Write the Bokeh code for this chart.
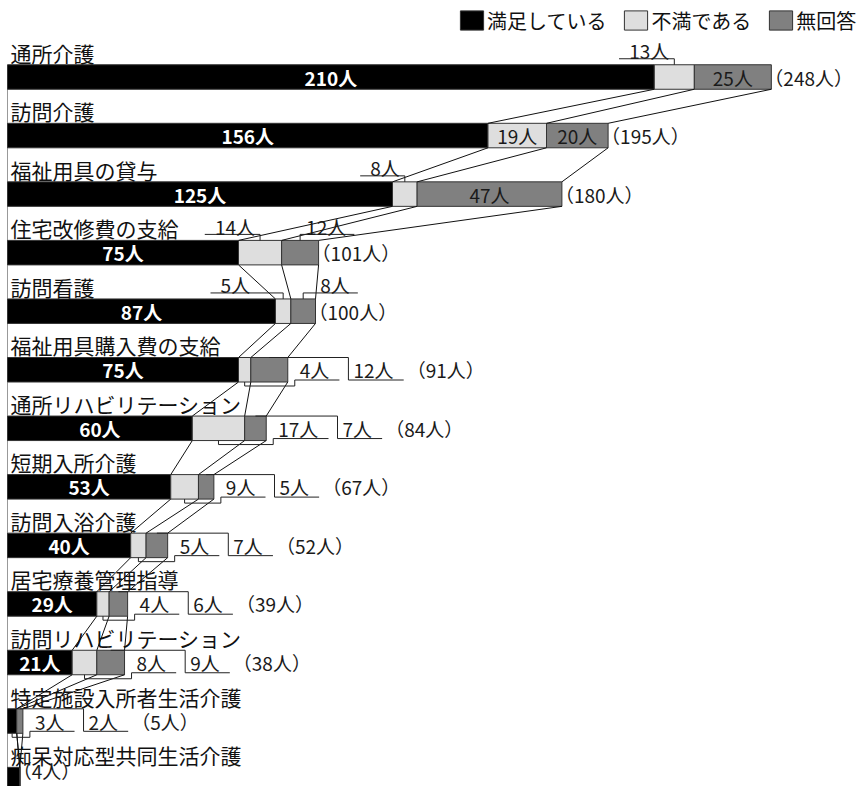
from bokeh.plotting import figure
from bokeh.models import ColumnDataSource, Range1d, Legend, LegendItem
from bokeh.core.properties import value
from bokeh.embed import file_html
from bokeh.resources import INLINE

# ---------------- data ----------------
categories = ["通所介護", "訪問介護", "福祉用具の貸与", "住宅改修費の支給", "訪問看護",
              "福祉用具購入費の支給", "通所リハビリテーション", "短期入所介護", "訪問入浴介護",
              "居宅療養管理指導", "訪問リハビリテーション", "特定施設入所者生活介護",
              "痴呆対応型共同生活介護"]
satisfied = [210, 156, 125, 75, 87, 75, 60, 53, 40, 29, 21, 3, 4]
dissatisfied = [13, 19, 8, 14, 5, 4, 17, 9, 5, 4, 8, 0, 0]
no_answer = [25, 20, 47, 12, 8, 12, 7, 5, 7, 6, 9, 2, 0]
series_names = ["満足している", "不満である", "無回答"]
unit = "人"

# ---------------- layout / style ----------------
placement = [
    ["in", "up_l", "in"],
    ["in", "in", "in"],
    ["in", "up_l", "in"],
    ["in", "up_l", "up_r"],
    ["in", "up_l", "up_r"],
    ["in", "out", "out"],
    ["in", "out", "out"],
    ["in", "out", "out"],
    ["in", "out", "out"],
    ["in", "out", "out"],
    ["in", "out", "out"],
    ["out", None, "out"],
    [None, None, None],
]
extra_shift = {(4, 1): 28, (4, 2): 11}

W, H = 860, 786
KX = 3.08      # px per person
KY = 58.55     # px per category step
X0 = 7.0       # px of bar origin
Y0 = 76.5      # px of first bar centre
BAR_PX = 24.5
FONT = "Noto Sans CJK JP"
NUM_SIZE = 19
CAT_SIZE = 21
colors = ["#000000", "#dedede", "#808080"]
edge = "#333333"


def dx(px):
    return px / KX


def dy(px):
    return px / KY


def text_w(s, size=NUM_SIZE):
    w = 0.0
    for ch in s:
        w += 0.56 * size if ch.isdigit() else 1.0 * size
    return w


n = len(categories)
totals = [a + b + c for a, b, c in zip(satisfied, dissatisfied, no_answer)]
series = [satisfied, dissatisfied, no_answer]
ys = list(range(n))
h = dy(BAR_PX)

x_start = -X0 / KX
x_end = x_start + W / KX
y_top = -Y0 / KY
y_bot = (H - Y0) / KY

p = figure(width=W, height=H, x_range=Range1d(x_start, x_end),
           y_range=Range1d(y_bot, y_top), output_backend="svg",
           toolbar_location=None, min_border=0,
           x_axis_location=None, y_axis_location=None)
p.outline_line_color = None
p.grid.grid_line_color = None
p.background_fill_color = "white"

# left base line
p.segment(x0=[0], y0=[0], x1=[0], y1=[n], line_color="#999999", line_width=1)

# bars
cum = [[0] * n, satisfied[:],
       [a + b for a, b in zip(satisfied, dissatisfied)], totals]
renderers = []
for s in range(3):
    src = ColumnDataSource(dict(y=ys, left=cum[s], right=cum[s + 1]))
    r = p.hbar(y="y", left="left", right="right", height=h, source=src,
               fill_color=colors[s], line_color=edge, line_width=1)
    renderers.append(r)

# series connector lines
cx0, cy0, cx1, cy1 = [], [], [], []
for i in range(n - 1):
    for k in (1, 2, 3):
        cx0.append(cum[k][i]); cy0.append(i + h / 2)
        cx1.append(cum[k][i + 1]); cy1.append(i + 1 - h / 2)
p.segment(x0=cx0, y0=cy0, x1=cx1, y1=cy1, line_color="#111111", line_width=1)

# category labels
p.text(x=[dx(3)] * n, y=[i - dy(24.5) for i in ys], text=categories,
       text_font=value(FONT), text_font_size=value(f"{CAT_SIZE}px"),
       text_color="#111111", text_align="left", text_baseline="middle")

# value labels
in_x, in_y, in_t, in_c, in_st = [], [], [], [], []
lab_x, lab_y, lab_t, lab_a = [], [], [], []
lxs, lys = [], []
tot_x, tot_y, tot_t = [], [], []
y_limit = y_bot - dy(16)

for i in range(n):
    top = i - h / 2
    bot = i + h / 2
    cursor = None
    first = True
    end = totals[i]
    for s in range(3):
        v = series[s][i]
        mode = placement[i][s]
        if mode is None or v == 0:
            continue
        t = f"{v}{unit}"
        tw = text_w(t)
        cx = cum[s][i] + v / 2
        ex = extra_shift.get((i, s), 0)
        if mode == "in":
            in_x.append(cx); in_y.append(i); in_t.append(t)
            in_c.append("white" if s == 0 else "#1a1a1a")
            in_st.append("bold" if s == 0 else "normal")
        elif mode == "up_l":
            ul = top - dy(6)
            tr = cx - dx(5 + ex)
            tl = tr - dx(tw)
            lxs.append([cx, cx, tl - dx(10)]); lys.append([top, ul, ul])
            lab_x.append(tr); lab_y.append(top - dy(14)); lab_t.append(t); lab_a.append("right")
        elif mode == "up_r":
            ul = top - dy(6)
            tl = cx + dx(6 + ex)
            trr = tl + dx(tw)
            lxs.append([cx, cx, trr + dx(8)]); lys.append([top, ul, ul])
            lab_x.append(tl); lab_y.append(top - dy(14)); lab_t.append(t); lab_a.append("left")
        elif mode == "out":
            ul = bot - dy(2)
            if cursor is None:
                cursor = end + dx(7)
            ue = cursor + dx(tw + 15)
            if first:
                lxs.append([cx, cx, cursor, cursor, ue])
                lys.append([bot, bot + dy(4), bot + dy(4), ul, ul])
            else:
                lxs.append([cx, cursor, cursor, ue])
                lys.append([top, top, ul, ul])
            lab_x.append(cursor + dx(5)); lab_y.append(i); lab_t.append(t); lab_a.append("left")
            cursor = ue + dx(9)
            first = False
    if cursor is None:
        tot_x.append(end - dx(7))
    else:
        tot_x.append(cursor - dx(6))
    tot_y.append(min(i, y_limit))
    tot_t.append(f"（{totals[i]}{unit}）")

p.multi_line(xs=lxs, ys=lys, line_color="#222222", line_width=1)

src_in = ColumnDataSource(dict(x=in_x, y=in_y, t=in_t, c=in_c, st=in_st))
p.text(x="x", y="y", text="t", text_color="c", text_font_style="st", source=src_in,
       text_font=value(FONT), text_font_size=value(f"{NUM_SIZE}px"),
       text_align="center", text_baseline="middle")

src_lab = ColumnDataSource(dict(x=lab_x, y=lab_y, t=lab_t, a=lab_a))
p.text(x="x", y="y", text="t", text_align="a", source=src_lab,
       text_font=value(FONT), text_font_size=value(f"{NUM_SIZE}px"),
       text_color="#1a1a1a", text_baseline="middle")

p.text(x=tot_x, y=tot_y, text=tot_t,
       text_font=value(FONT), text_font_size=value(f"{NUM_SIZE}px"),
       text_color="#1a1a1a", text_align="left", text_baseline="middle")

# legend
legend = Legend(items=[LegendItem(label=series_names[s], renderers=[renderers[s]]) for s in range(3)],
                orientation="horizontal", location=(457, H - 34.5),
                glyph_width=29, glyph_height=24, label_standoff=1, spacing=15,
                padding=0, margin=0, border_line_color=None, background_fill_alpha=0,
                label_text_font=FONT, label_text_font_size="20px",
                label_text_color="#111111")
p.add_layout(legend)

open("out.html", "w").write(file_html(p, INLINE))
